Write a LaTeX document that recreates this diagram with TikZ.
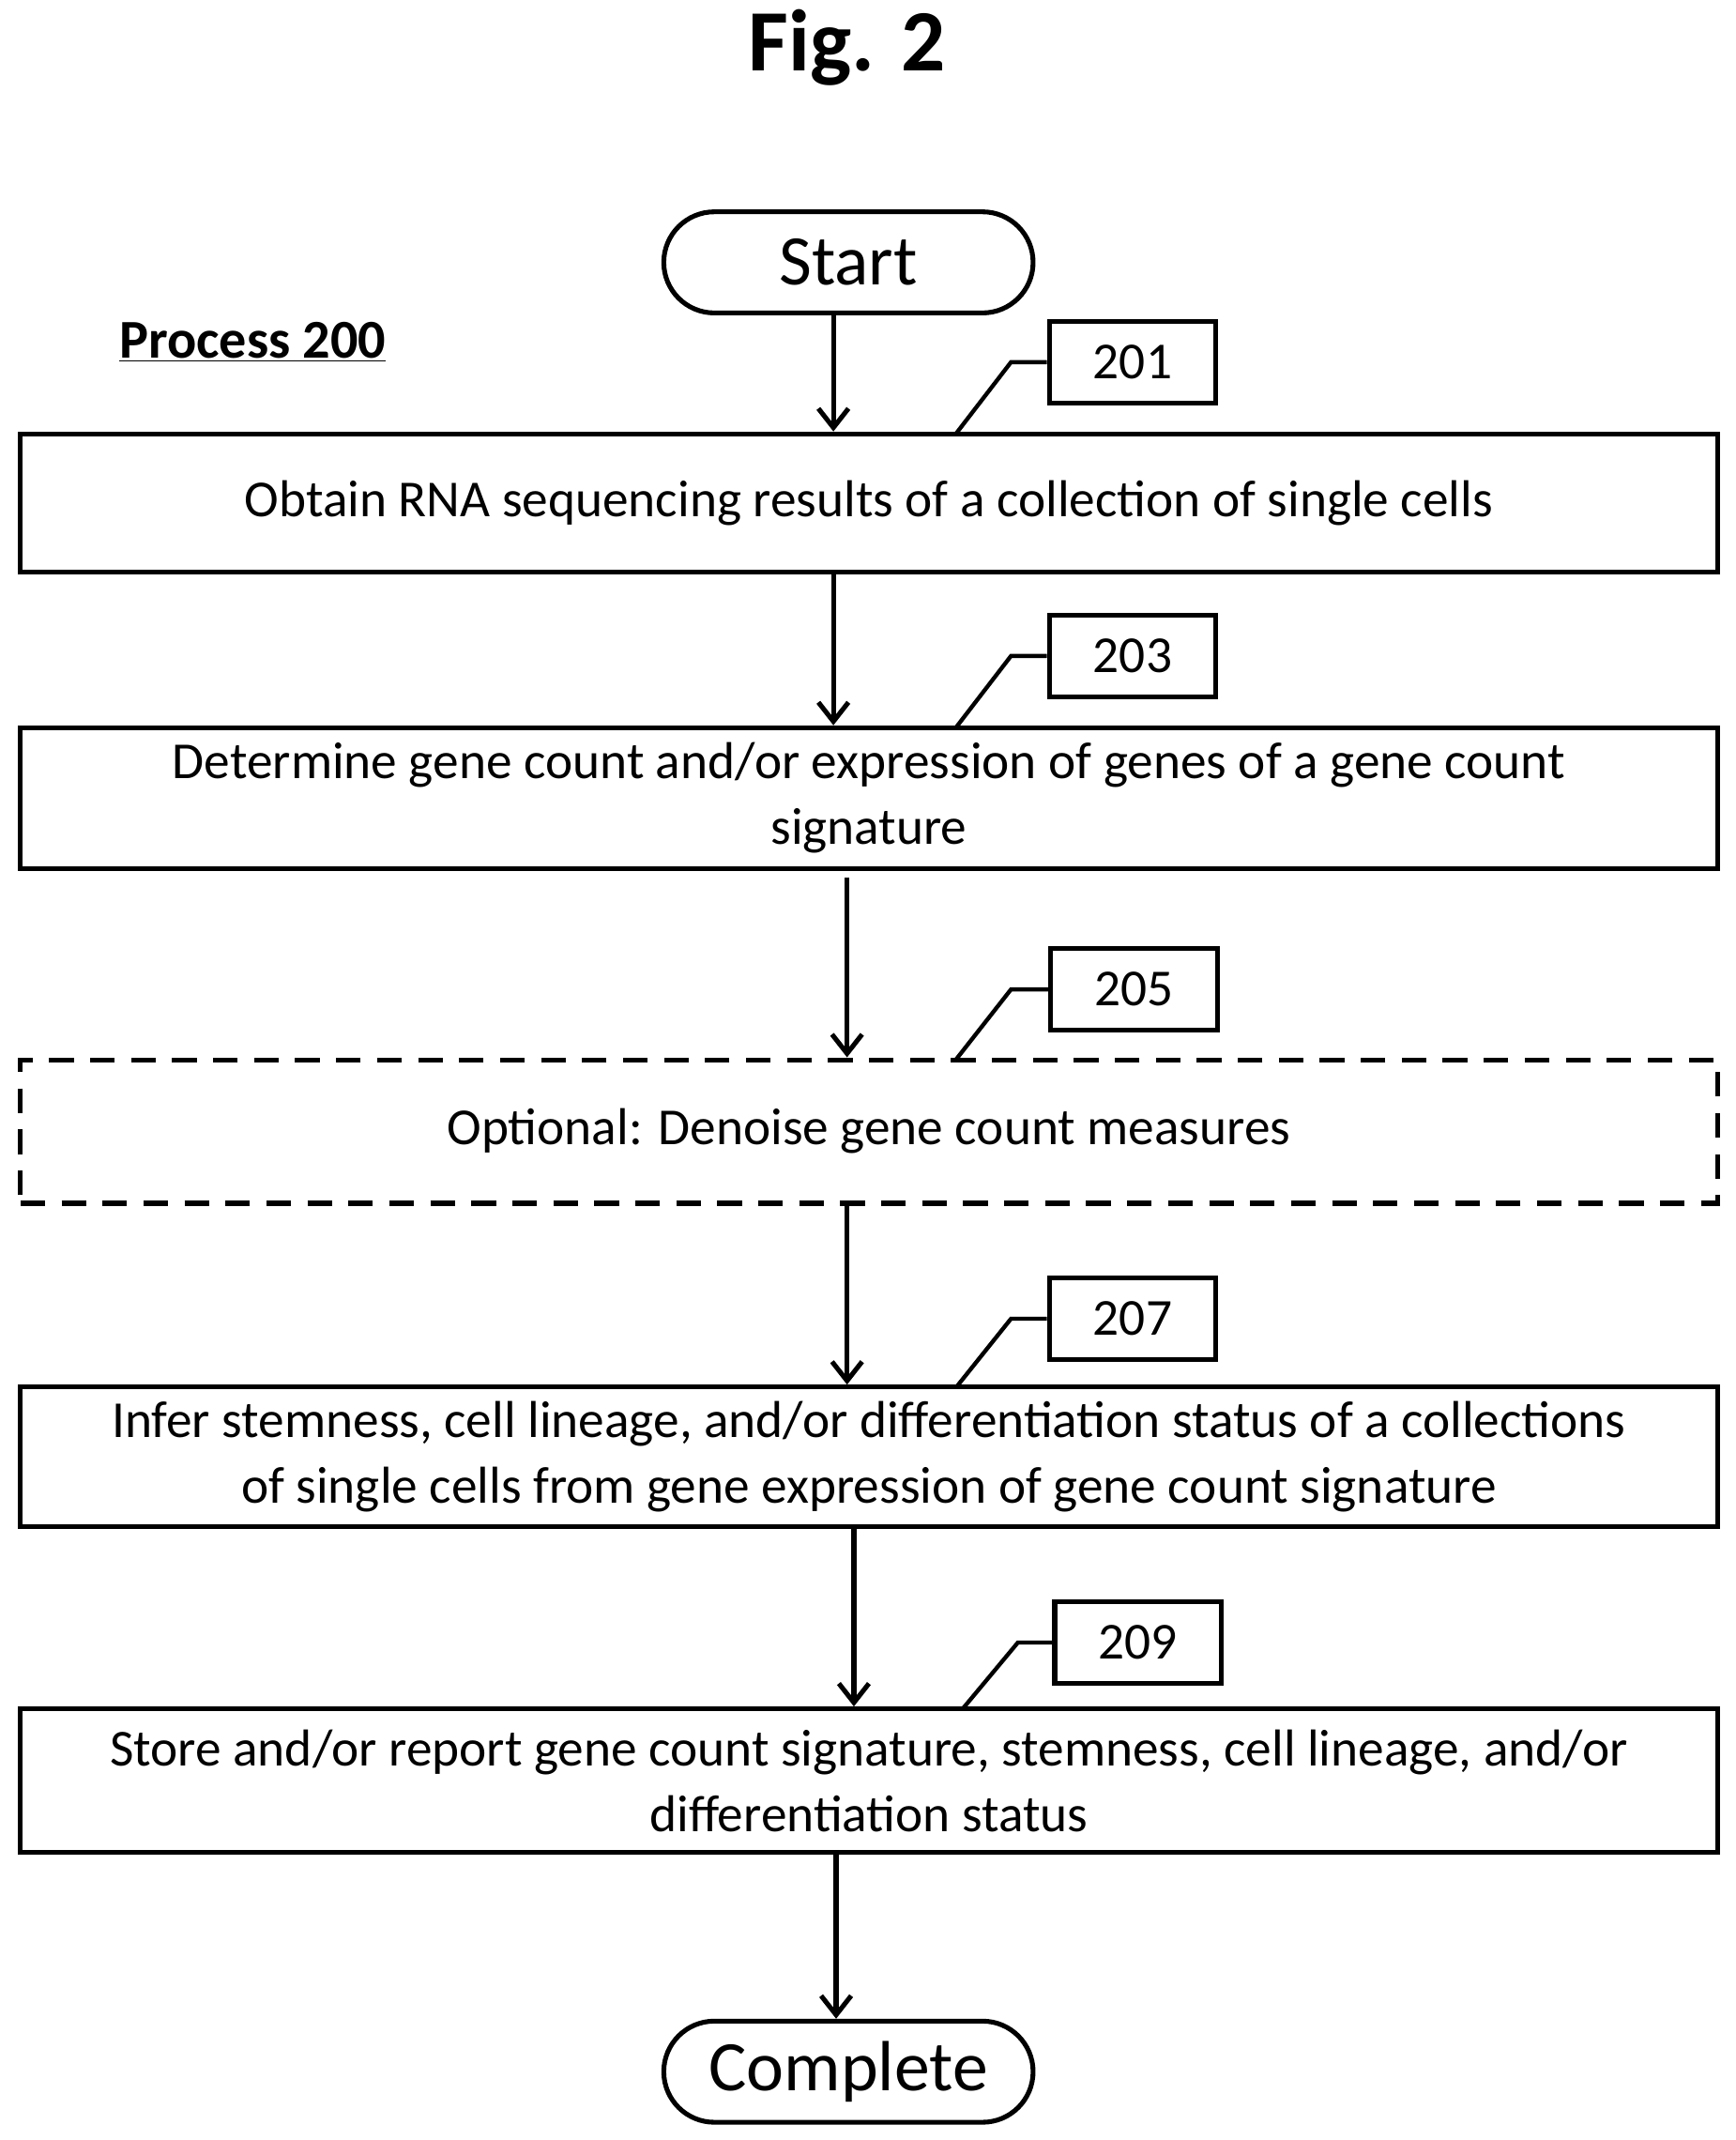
\documentclass[tikz,border=0pt]{standalone}
\usepackage{fontspec}
\setmainfont{Carlito}
\usetikzlibrary{arrows.meta,shapes.misc}
\begin{document}
\begin{tikzpicture}[x=1pt,y=-1pt,
  box/.style={draw,line width=3.5pt,minimum width=1242pt,align=center,font=\fontsize{38}{48}\selectfont},
  lab/.style={draw,line width=3.5pt,minimum width=122pt,minimum height=60pt,font=\fontsize{38}{40}\selectfont},
  term/.style={draw,line width=3.5pt,rounded rectangle,minimum width=277pt,minimum height=74pt,font=\fontsize{52}{56}\selectfont},
  arr/.style={line width=3.5pt,-{Straight Barb[length=14pt,width=22pt]}},
  lead/.style={line width=3pt}]
\useasboundingbox (0,0) rectangle (1270,1566);
\node[font=\bfseries\fontsize{64}{68}\selectfont] (title) at (620,35) {Fig. 2};
\node[font=\bfseries\fontsize{40}{44}\selectfont] (proc) at (185,250) {\underline{Process 200}};
\node[term] (start) at (621,192) {Start};
\node[box,minimum height=101pt] (b1) at (636,368) {Obtain RNA sequencing results of a collection of single cells};
\node[box,minimum height=103pt] (b2) at (636,584) {Determine gene count and/or expression of genes of a gene count\\signature};
\node[box,minimum height=105pt,dashed,dash pattern=on 18pt off 12pt] (b3) at (636,828) {Optional: Denoise gene count measures};
\node[box,minimum height=102pt] (b4) at (636,1066) {Infer stemness, cell lineage, and/or differentiation status of a collections\\of single cells from gene expression of gene count signature};
\node[box,minimum height=105pt] (b5) at (636,1303) {Store and/or report gene count signature, stemness, cell lineage, and/or\\differentiation status};
\node[term] (end) at (621,1516) {Complete};
\node[lab] (l1) at (829,265) {201};
\node[lab] (l2) at (829,480) {203};
\node[lab] (l3) at (830,724) {205};
\node[lab] (l4) at (829,965) {207};
\node[lab] (l5) at (833,1202) {209};
\draw[lead] (700,317) -- (740,265) -- (l1.west);
\draw[lead] (700,532) -- (740,480) -- (l2.west);
\draw[lead] (700,775) -- (740,724) -- (l3.west);
\draw[lead] (700,1015) -- (740,965) -- (l4.west);
\draw[lead] (705,1250) -- (745,1202) -- (l5.west);
\draw[arr] (start.south -| 610,0) -- (b1.north -| 610,0);
\draw[arr] (b1.south -| 610,0) -- (b2.north -| 610,0);
\draw[arr] ([yshift=-5pt]b2.south -| 620,0) -- (b3.north -| 620,0);
\draw[arr] (b3.south -| 620,0) -- (b4.north -| 620,0);
\draw[arr] (b4.south -| 625,0) -- (b5.north -| 625,0);
\draw[arr] (b5.south -| 612,0) -- (end.north -| 612,0);
\end{tikzpicture}
\end{document}
